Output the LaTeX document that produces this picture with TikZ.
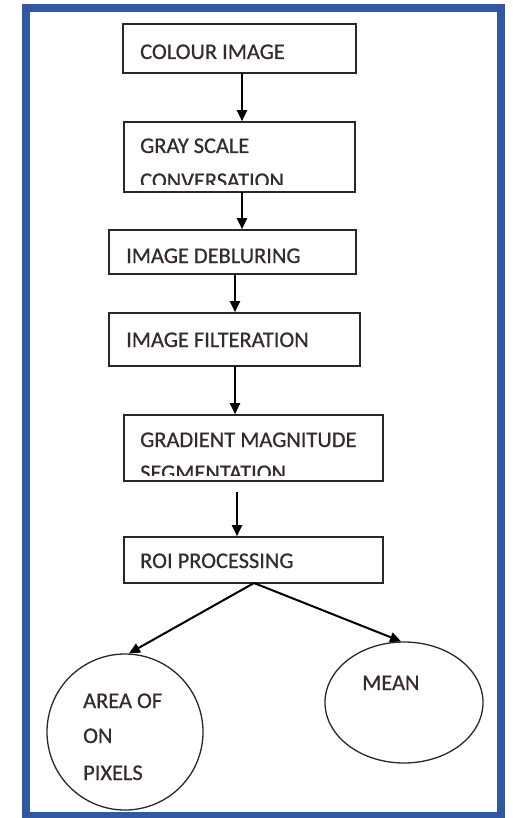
\documentclass[tikz,border=0pt]{standalone}
\usepackage{fontspec}
\setmainfont{Carlito}
\newfontfamily\diagfont{Carlito}[FakeBold=0.6]
\usetikzlibrary{arrows.meta,calc,shapes.geometric}
\definecolor{framecol}{RGB}{50,88,162}
\definecolor{txtcol}{RGB}{55,42,42}
\definecolor{linecol}{RGB}{40,40,40}
\begin{document}
\begin{tikzpicture}[x=1pt,y=-1pt,
  boxstyle/.style={draw=linecol,line width=1.6pt,rectangle,inner sep=0pt},
  lbl/.style={anchor=base west,inner sep=0pt,text=txtcol,font=\diagfont\fontsize{22.4}{24}\selectfont},
  arr/.style={draw=black,line width=2pt,-{Triangle[length=11pt,width=10pt]}},
  roundstyle/.style={draw=linecol,line width=1.3pt,inner sep=0pt}]
\useasboundingbox (0,0) rectangle (513,818);
\fill[white] (0,0) rectangle (513,818);
\draw[framecol,line width=8pt] (26,8.5) rectangle (501,816);
% boxes
\node[boxstyle,minimum width=233pt,minimum height=49pt] (b1) at (239.5,48.5) {};
\node[boxstyle,minimum width=231pt,minimum height=70pt] (b2) at (239.5,157) {};
\node[boxstyle,minimum width=247pt,minimum height=44pt] (b3) at (232.5,252) {};
\node[boxstyle,minimum width=251pt,minimum height=53pt] (b4) at (234.5,339.5) {};
\node[boxstyle,minimum width=259pt,minimum height=66pt] (b5) at (253.5,448) {};
\node[boxstyle,minimum width=259pt,minimum height=46pt] (b6) at (253.5,560) {};
% texts
\node[lbl] (t1) at (140,59) {COLOUR IMAGE};
\node[lbl] (t2a) at (140,153) {GRAY SCALE};
\begin{scope}
\clip (124,160) rectangle (355,185);
\node[lbl] (t2b) at (140,188) {CONVERSATION};
\end{scope}
\node[lbl] (t3) at (126,263) {IMAGE DEBLURING};
\node[lbl] (t4) at (126,347) {IMAGE FILTERATION};
\node[lbl] (t5a) at (140,447) {GRADIENT MAGNITUDE};
\begin{scope}
\clip (124,455) rectangle (383,475);
\node[lbl] (t5b) at (140,480) {SEGMENTATION};
\end{scope}
\node[lbl] (t6) at (140,568) {ROI PROCESSING};
% round nodes
\node[roundstyle,circle,minimum size=156pt] (area) at (125,732) {};
\node[roundstyle,ellipse,minimum width=158pt,minimum height=121pt] (mean) at (404,702.5) {};
\node[lbl] (ta) at (83,708) {AREA OF};
\node[lbl] (tb) at (83,743) {ON};
\node[lbl] (tc) at (83,780) {PIXELS};
\node[lbl] (tm) at (362,690) {MEAN};
% connectors
\coordinate (c1) at (242,73);
\draw[arr] (c1) -- (c1 |- b2.north);
\coordinate (c2) at (242,192);
\draw[arr] (c2) -- (c2 |- b3.north);
\coordinate (c3) at (235,274);
\draw[arr] (c3) -- (c3 |- b4.north);
\coordinate (c4) at (235,366);
\draw[arr] (c4) -- (c4 |- b5.north);
\coordinate (g) at (237,492);
\draw[arr] (g) -- (g |- b6.north);
\coordinate (c6) at (254,583);
\draw[arr] (c6) -- ($(area.north)+(4,0)$);
\draw[arr] (c6) -- ($(mean.north)+(-3,0)$);
\end{tikzpicture}
\end{document}
